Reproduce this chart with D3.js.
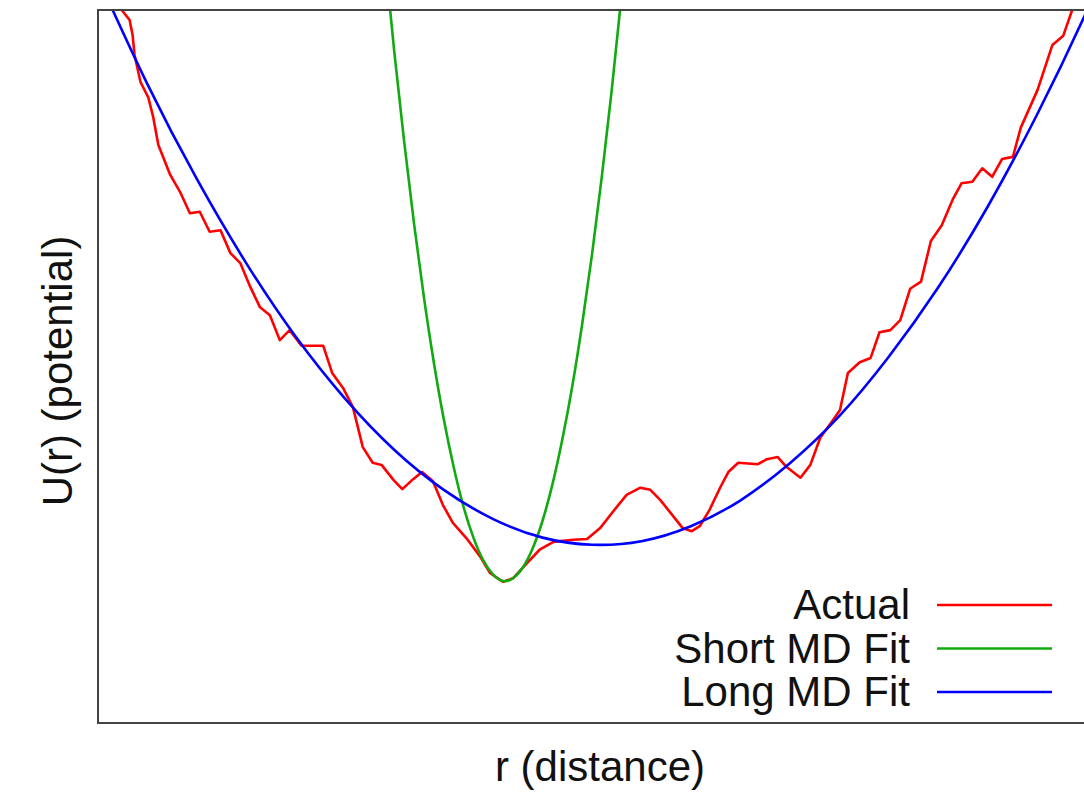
<!DOCTYPE html>
<html>
<head>
<meta charset="utf-8">
<script src="https://cdn.jsdelivr.net/npm/d3@7"></script>
<style>
  body { margin: 0; background: #fff; }
  text { font-family: "Liberation Sans", Arial, sans-serif; fill: #111; }
</style>
</head>
<body>
<div id="chart"></div>
<script>
// values (r, U), arbitrary units
var actual = [
  [0.20,10.21],[0.24,10.00],[0.32,9.86],[0.35,9.65],[0.37,9.37],[0.43,8.99],[0.51,8.77],[0.56,8.49],
  [0.61,8.11],[0.73,7.69],[0.83,7.45],[0.93,7.15],[1.03,7.17],[1.13,6.89],[1.24,6.91],[1.34,6.59],
  [1.44,6.45],[1.54,6.12],[1.64,5.83],[1.74,5.72],[1.84,5.37],[1.94,5.51],[2.06,5.29],[2.28,5.29],
  [2.37,4.91],[2.48,4.70],[2.58,4.43],[2.68,3.87],[2.78,3.65],[2.87,3.62],[2.99,3.41],[3.08,3.28],
  [3.19,3.42],[3.28,3.52],[3.39,3.39],[3.49,3.06],[3.59,2.81],[3.73,2.59],[3.87,2.33],[3.97,2.10],
  [4.10,1.98],[4.20,2.03],[4.34,2.24],[4.47,2.43],[4.61,2.54],[4.81,2.57],[4.95,2.58],[5.08,2.73],
  [5.21,2.96],[5.35,3.20],[5.49,3.30],[5.59,3.27],[5.69,3.13],[5.92,2.73],[6.01,2.69],[6.09,2.76],
  [6.19,2.99],[6.30,3.31],[6.38,3.52],[6.48,3.65],[6.68,3.63],[6.77,3.70],[6.88,3.73],[6.97,3.59],
  [7.11,3.44],[7.21,3.62],[7.31,4.00],[7.44,4.25],[7.51,4.39],[7.59,4.91],[7.71,5.06],[7.82,5.12],
  [7.91,5.48],[8.02,5.51],[8.12,5.65],[8.22,6.09],[8.33,6.19],[8.43,6.76],[8.54,6.98],[8.65,7.34],
  [8.74,7.57],[8.85,7.59],[8.95,7.78],[9.05,7.66],[9.15,7.91],[9.26,7.94],[9.34,8.35],[9.51,8.88],
  [9.66,9.51],[9.77,9.64],[9.86,10.00],[9.90,10.21]
];

var shortFit = [
  [2.8,12.29],[2.9,10.79],[3.0,9.40],[3.1,8.14],[3.2,6.99],[3.3,5.96],[3.4,5.05],[3.5,4.26],
  [3.6,3.59],[3.7,3.03],[3.8,2.60],[3.9,2.28],[4.0,2.08],[4.1,1.99],[4.2,2.03],[4.3,2.18],
  [4.4,2.45],[4.5,2.84],[4.6,3.35],[4.7,3.98],[4.8,4.72],[4.9,5.59],[5.0,6.57],[5.1,7.67],
  [5.2,8.88],[5.3,10.22],[5.4,11.67]
];

var longFit = [
  [0.0,10.45],[0.5,8.96],[1.0,7.63],[1.5,6.45],[2.0,5.42],[2.5,4.55],[3.0,3.83],[3.5,3.27],
  [4.0,2.86],[4.5,2.60],[5.0,2.50],[5.5,2.55],[6.0,2.76],[6.5,3.12],[7.0,3.64],[7.5,4.30],
  [8.0,5.13],[8.5,6.10],[9.0,7.23],[9.5,8.52],[10.0,9.96],[10.5,11.55]
];

var seriesNames = ["Actual", "Short MD Fit", "Long MD Fit"];
var seriesColors = ["#ff0000", "#11aa11", "#0000ff"];

(function() {
var width = 1084,
  height = 795;

var plotLeft = 98, plotTop = 10, plotRight = 1086, plotBottom = 723;

var svg = d3.select("#chart")
  .append("svg")
  .attr("width", width)
  .attr("height", height);

var x = d3.scaleLinear().domain([0, 10]).range([plotLeft, plotRight]);
var y = d3.scaleLinear().domain([0, 10]).range([plotBottom, plotTop]);

svg.append("clipPath")
  .attr("id", "plot-clip")
  .append("rect")
  .attr("x", plotLeft)
  .attr("y", plotTop)
  .attr("width", plotRight - plotLeft)
  .attr("height", plotBottom - plotTop);

var line = d3.line()
  .x(function(d) { return x(d[0]); })
  .y(function(d) { return y(d[1]); });

var plot = svg.append("g").attr("clip-path", "url(#plot-clip)");

var allSeries = [actual, shortFit, longFit];
var curves = [d3.curveLinear, d3.curveNatural, d3.curveNatural];

allSeries.forEach(function(data, i) {
  plot.append("path")
    .datum(data)
    .attr("fill", "none")
    .attr("stroke", seriesColors[i])
    .attr("stroke-width", 2.6)
    .attr("stroke-linejoin", "round")
    .attr("d", line.curve(curves[i]));
});

// frame
svg.append("rect")
  .attr("x", plotLeft)
  .attr("y", plotTop)
  .attr("width", plotRight - plotLeft)
  .attr("height", plotBottom - plotTop)
  .attr("fill", "none")
  .attr("stroke", "#444")
  .attr("stroke-width", 2);

// axis labels
svg.append("text")
  .attr("x", 600)
  .attr("y", 781)
  .attr("text-anchor", "middle")
  .attr("font-size", 42)
  .text("r (distance)");

svg.append("text")
  .attr("transform", "translate(72,371) rotate(-90)")
  .attr("text-anchor", "middle")
  .attr("font-size", 42)
  .text("U(r) (potential)");

// legend
var legend = svg.selectAll(".legend")
  .data(seriesNames)
  .enter().append("g")
  .attr("class", "legend")
  .attr("transform", function(d, i) { return "translate(0," + (605 + i * 43.5) + ")"; });

legend.append("text")
  .attr("x", 910)
  .attr("y", 14)
  .attr("text-anchor", "end")
  .attr("font-size", 42)
  .text(function(d) { return d; });

legend.append("line")
  .attr("x1", 937)
  .attr("x2", 1052)
  .attr("y1", 0)
  .attr("y2", 0)
  .attr("stroke", function(d, i) { return seriesColors[i]; })
  .attr("stroke-width", 2.6);
})();
</script>
</body>
</html>
